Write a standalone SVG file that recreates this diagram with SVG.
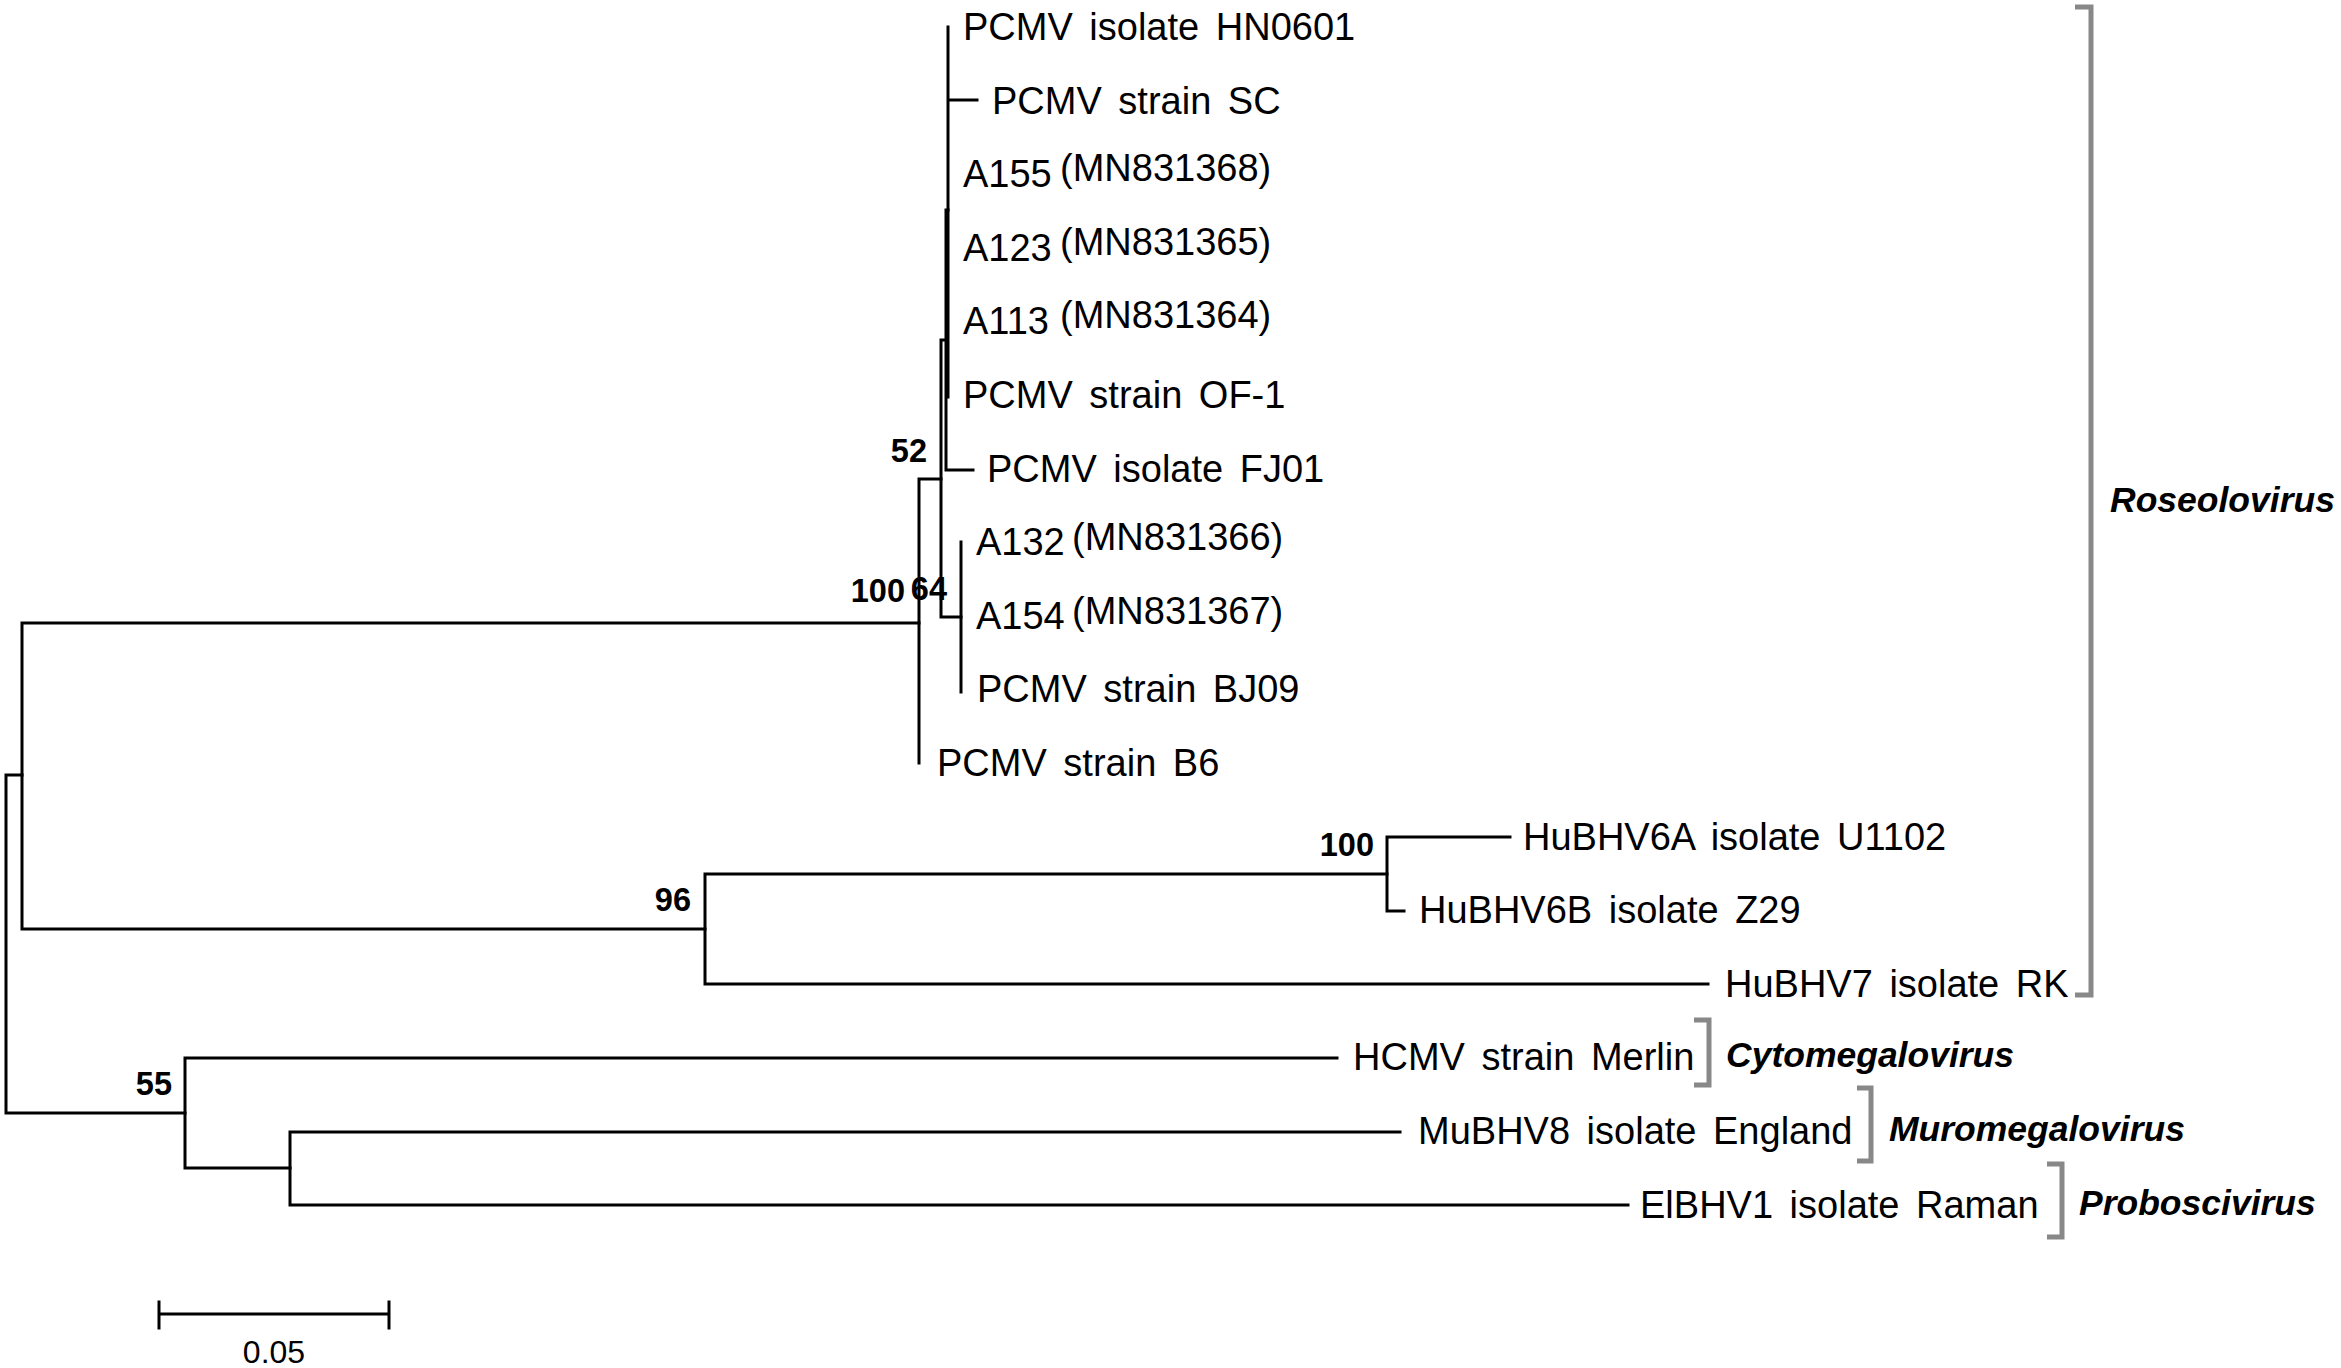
<svg xmlns="http://www.w3.org/2000/svg" width="2341" height="1368" viewBox="0 0 2341 1368">
<style>
.br{fill:none;stroke:#000;stroke-width:3;stroke-linecap:square}
.lab{font-family:"Liberation Sans",Arial,sans-serif;font-size:38px;fill:#000;word-spacing:6px}
.bs{font-family:"Liberation Sans",Arial,sans-serif;font-size:32.5px;font-weight:bold;fill:#000;text-anchor:end}
.gb{fill:none;stroke:#888;stroke-width:5}
.gen{font-family:"Liberation Sans",Arial,sans-serif;font-size:35.5px;font-weight:bold;font-style:italic;fill:#000}
.sc{font-family:"Liberation Sans",Arial,sans-serif;font-size:32px;fill:#000;text-anchor:middle}
</style>
<rect width="2341" height="1368" fill="#fff"/>
<g id="connectors">
<path class="br" d="M6,775V1113M6,775H22M6,1113H185"/>
<path class="br" d="M22,623V929M22,623H919M22,929H705"/>
<path class="br" d="M919,479V763M919,479H941"/>
<path class="br" d="M941,340V617M941,340H946M941,617H961"/>
<path class="br" d="M946,210V470M946,210H948M946,470H973"/>
<path class="br" d="M948,27V397M948,100H977"/>
<path class="br" d="M961,542V692"/>
<path class="br" d="M705,874V984M705,874H1387M705,984H1708"/>
<path class="br" d="M1387,837V911M1387,837H1510M1387,911H1404"/>
<path class="br" d="M185,1058V1168M185,1058H1337M185,1168H290"/>
<path class="br" d="M290,1132V1205M290,1132H1400M290,1205H1628"/>
</g>
<g id="n-HN0601"><text class="lab" x="963" y="40">PCMV isolate HN0601</text></g>
<g id="n-SC"><text class="lab" x="992" y="114">PCMV strain SC</text></g>
<g id="n-A155"><text class="lab" x="963" y="187">A155<tspan x="1060" dy="-6">(MN831368)</tspan></text></g>
<g id="n-A123"><text class="lab" x="963" y="261">A123<tspan x="1060" dy="-6">(MN831365)</tspan></text></g>
<g id="n-A113"><text class="lab" x="963" y="334">A113<tspan x="1060" dy="-6">(MN831364)</tspan></text></g>
<g id="n-OF1"><text class="lab" x="963" y="408">PCMV strain OF-1</text></g>
<g id="n-FJ01"><text class="lab" x="987" y="482">PCMV isolate FJ01</text></g>
<g id="n-A132"><text class="lab" x="976" y="555">A132<tspan x="1072" dy="-5">(MN831366)</tspan></text></g>
<g id="n-A154"><text class="lab" x="976" y="629">A154<tspan x="1072" dy="-5">(MN831367)</tspan></text></g>
<g id="n-BJ09"><text class="lab" x="977" y="702">PCMV strain BJ09</text></g>
<g id="n-B6"><text class="lab" x="937" y="776">PCMV strain B6</text></g>
<g id="n-HHV6A"><text class="lab" x="1523" y="850">HuBHV6A isolate U1102</text></g>
<g id="n-HHV6B"><text class="lab" x="1419" y="923">HuBHV6B isolate Z29</text></g>
<g id="n-HHV7"><text class="lab" x="1725" y="997">HuBHV7 isolate RK</text></g>
<g id="n-HCMV"><text class="lab" x="1353" y="1070">HCMV strain Merlin</text></g>
<g id="n-MuBHV8"><text class="lab" x="1418" y="1144">MuBHV8 isolate England</text></g>
<g id="n-ElBHV1"><text class="lab" x="1640" y="1218">ElBHV1 isolate Raman</text></g>
<g id="bootstrap">
<text class="bs" x="927" y="462">52</text>
<text class="bs" x="905" y="602">100</text>
<text class="bs" x="947" y="600">64</text>
<text class="bs" x="1374" y="856">100</text>
<text class="bs" x="691" y="911">96</text>
<text class="bs" x="172" y="1095">55</text>
</g>
<g id="genus-roseolovirus">
<path class="gb" d="M2075,7H2091V995H2075"/>
<text class="gen" x="2110" y="512">Roseolovirus</text>
</g>
<g id="genus-cytomegalovirus">
<path class="gb" d="M1694,1020H1709V1085H1694"/>
<text class="gen" x="1726" y="1067">Cytomegalovirus</text>
</g>
<g id="genus-muromegalovirus">
<path class="gb" d="M1857,1088H1871V1161H1857"/>
<text class="gen" x="1889" y="1141">Muromegalovirus</text>
</g>
<g id="genus-proboscivirus">
<path class="gb" d="M2047,1164H2062V1237H2047"/>
<text class="gen" x="2079" y="1215">Proboscivirus</text>
</g>
<g id="scalebar">
<path class="br" d="M159,1314H389M159,1302V1328M389,1302V1328"/>
<text class="sc" x="274" y="1363">0.05</text>
</g>
</svg>
